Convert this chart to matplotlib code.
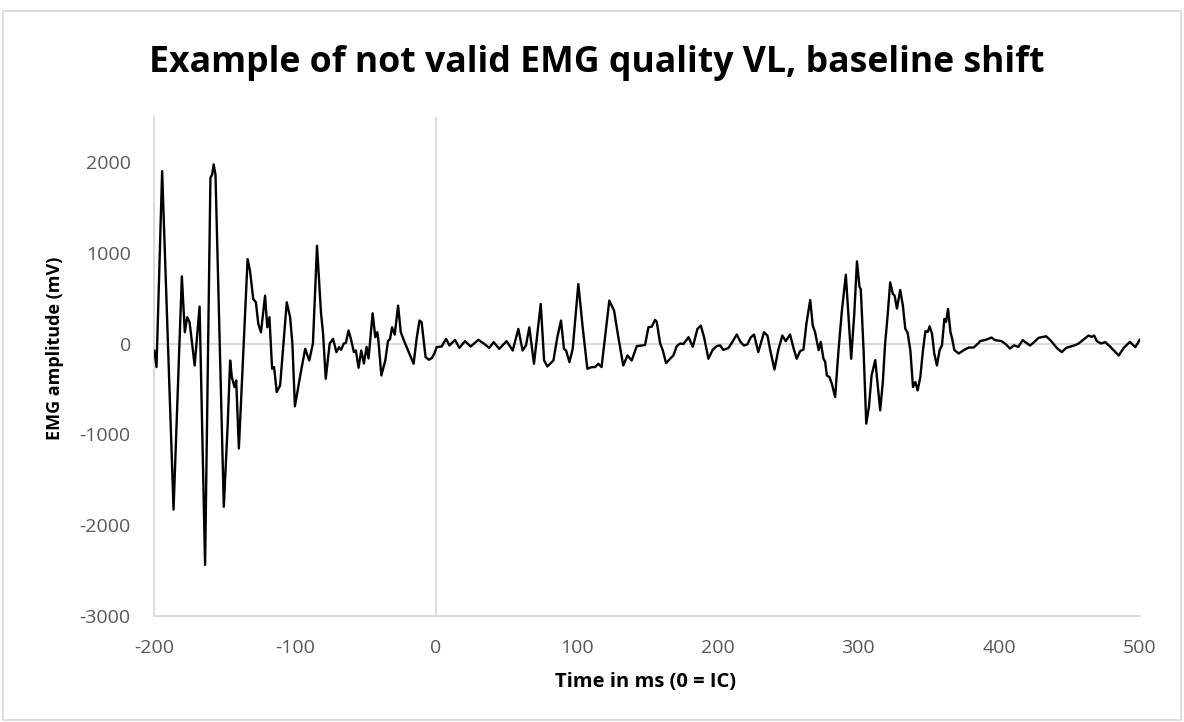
import matplotlib
matplotlib.use("Agg")
import matplotlib.pyplot as plt
from matplotlib.patches import Rectangle

# EMG trace: time (ms) and amplitude (mV)
time_ms = [
    -200, -198.5, -194.5, -186.4, -180.5, -178.4, -176.7, -175, -171.4, -167.9,
    -164, -160.2, -159, -157.9, -156.6, -150.7, -147.9, -146.2, -145, -143.1,
    -141.9, -140, -133.8, -132.1, -129.8, -127.9, -126.2, -124.3, -121.4, -119.8,
    -118.3, -116.4, -115, -113.1, -110.7, -106, -103.6, -102, -100.2, -96.4,
    -92.9, -90, -87.4, -84.5, -81.7, -80.2, -78.3, -75.5, -73.1, -70.7,
    -68.8, -67.4, -65.5, -64, -62.1, -60.2, -58.3, -56.9, -55, -53.1,
    -51.2, -49.3, -47.9, -45, -43.1, -41.7, -41, -38.8, -36, -34.1,
    -32.6, -31.2, -29.3, -26.9, -25, -22.6, -19.8, -15.9, -13.6, -11.7,
    -10.2, -7.4, -5, -3, -1.2, 0.5, 4, 7.2, 9.5, 13.5,
    16.6, 20.6, 24.6, 30, 33.6, 37.8, 41, 44.9, 50.2, 54.5,
    58.5, 61.5, 63.9, 66.3, 69.6, 74.4, 76.8, 79.1, 83.4, 86.2,
    88.8, 90.9, 92.4, 94.8, 97.1, 101.1, 104.2, 107.5, 110.6, 113,
    115.3, 117.6, 123.1, 126.5, 129.5, 133, 136, 139, 142.6, 146.2,
    148.5, 150.9, 153.3, 155.6, 156.8, 159.2, 161, 163.4, 166.3, 168.6,
    171, 173.4, 175.8, 179.4, 182.4, 185.7, 188.1, 190.4, 193.5, 196.5,
    199.4, 201.8, 204.1, 207.6, 210, 213.6, 216.4, 218.8, 221.1, 223.5,
    225.9, 228.9, 233, 235.4, 237.3, 240.4, 243.2, 246, 248.4, 251.5,
    253.9, 256.2, 258.6, 261, 263.2, 265.8, 267.6, 269.2, 270.9, 271.8,
    273.3, 275.2, 276.4, 277.6, 279.5, 281.1, 283.5, 285.9, 288.3, 291.1,
    293, 294.9, 297.1, 299, 300.8, 301.7, 303.7, 305.6, 307.5, 309.4,
    312, 315.5, 317.4, 319, 320.7, 322.6, 324.5, 325.7, 327.4, 329.7,
    331.6, 333.3, 335, 336.9, 338.8, 340.5, 342.1, 344, 345.9, 347.6,
    349.4, 350.6, 352.3, 353.9, 355.8, 357.7, 359.4, 361.1, 362.3, 363.7,
    365.4, 366.5, 368.2, 371.3, 374.9, 378.4, 381.9, 385.5, 386.4, 391.1,
    394.6, 397, 401.8, 404.9, 407.7, 410.6, 413.6, 416.7, 421.9, 424.8,
    427.9, 433.3, 436.2, 440.9, 444.5, 447.6, 450.9, 454, 456.4, 460,
    463.5, 465.8, 467.5, 469.4, 472.3, 475.4, 478.5, 484.9, 488.5, 492.8,
    496.7, 500,
]
emg_mv = [
    -80, -260, 1900, -1830, 740, 124, 290, 235, -242, 407,
    -2440, 1828, 1860, 1974, 1860, -1799, -880, -187, -370, -480,
    -407, -1157, 930, 802, 491, 454, 216, 124, 527, 179,
    290, -278, -260, -535, -462, 454, 290, 0, -692, -352,
    -58, -187, 0, 1077, 344, 110, -388, 0, 51, -95,
    -40, -70, 0, 7, 143, 37, -95, -77, -267, -77,
    -220, -37, -165, 333, 70, 125, 51, -352, -187, 26,
    51, 179, 99, 418, 125, 26, -77, -223, 70, 253,
    235, -150, -179, -160, -113, -40, -33, 51, -22, 40,
    -48, 26, -33, 40, 4, -48, 15, -59, 26, -77,
    161, -77, -22, 179, -223, 436, -187, -253, -187, 70,
    253, -59, -77, -205, -59, 656, 179, -278, -260, -260,
    -223, -260, 473, 363, 70, -242, -132, -187, -29, -22,
    -15, 179, 186, 260, 240, 0, -70, -216, -168, -132,
    -29, 0, -5, 70, -37, 161, 197, 70, -168, -70,
    -29, -20, -70, -51, 4, 99, 15, -22, -10, 66,
    99, -95, 124, 88, -66, -286, -66, 88, 26, 99,
    -48, -168, -84, -66, 230, 480, 198, 128, 0, -73,
    18, -168, -200, -352, -370, -440, -590, -73, 363, 758,
    293, -168, 330, 905, 623, 600, -73, -883, -700, -352,
    -183, -736, -420, 0, 293, 674, 546, 530, 385, 590,
    421, 165, 117, -73, -480, -425, -517, -370, -73, 135,
    130, 190, 110, -110, -242, -73, -18, 271, 240, 381,
    128, 60, -73, -110, -73, -44, -44, 7, 26, 44,
    66, 37, 26, -11, -55, -20, -37, 37, -22, 15,
    62, 80, 40, -48, -95, -48, -33, -18, 0, 44,
    88, 73, 88, 26, 0, 15, -29, -132, -48, 18,
    -40, 44,
]

x_ticks = [-200, -100, 0, 100, 200, 300, 400, 500]
y_ticks = [-3000, -2000, -1000, 0, 1000, 2000]

axis_grey = "#D9D9D9"
label_grey = "#595959"
plt.rcParams["font.family"] = ["Open Sans", "DejaVu Sans"]
plt.rcParams["axes.unicode_minus"] = False

fig = plt.figure(figsize=(11.84, 7.22), dpi=100)
ax = fig.add_axes([0.1304, 0.1472, 0.8324, 0.6912])

ax.plot(time_ms, emg_mv, color="black", linewidth=1.7, zorder=3)
ax.axhline(0, color=axis_grey, linewidth=1.3, zorder=1)
ax.axvline(0, color=axis_grey, linewidth=1.3, zorder=1)

ax.set_xlim(-200, 500)
ax.set_ylim(-3000, 2500)
ax.set_xticks(x_ticks)
ax.set_yticks(y_ticks)
ax.tick_params(length=0, labelsize=14, labelcolor=label_grey)
ax.tick_params(axis="x", pad=17)
ax.tick_params(axis="y", pad=17)

for side in ["top", "right"]:
    ax.spines[side].set_visible(False)
for side in ["left", "bottom"]:
    ax.spines[side].set_color(axis_grey)
    ax.spines[side].set_linewidth(1.3)

ax.set_xlabel("Time in ms (0 = IC)", fontsize=14.5, fontweight="bold")
ax.set_ylabel("EMG amplitude (mV)", fontsize=13, fontweight="bold")
ax.xaxis.set_label_coords(0.4988, -0.113)
ax.yaxis.set_label_coords(-0.092, 0.536)
fig.text(0.5038, 0.9003, "Example of not valid EMG quality VL, baseline shift",
         ha="center", va="baseline", fontsize=25.7, fontweight="bold")

# light chart-area border
fig.patches.append(Rectangle((0.0025, 0.003), 0.995, 0.982, transform=fig.transFigure,
                             fill=False, edgecolor=axis_grey, linewidth=1.2))

fig.savefig("out.png", dpi=100)
plt.close(fig)
